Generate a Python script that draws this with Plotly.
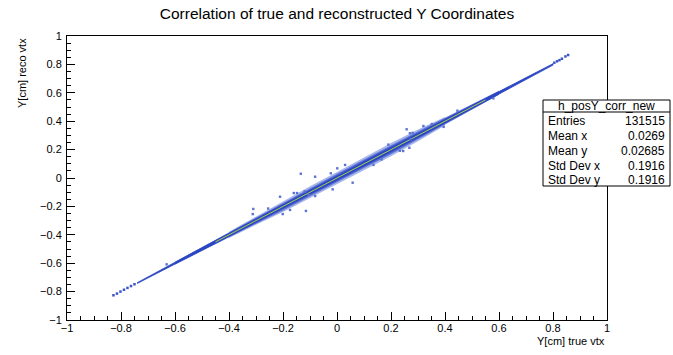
import plotly.graph_objects as go

# ---- data ----
band_x = [-0.74, -0.70, -0.60, -0.50, -0.40, -0.30, -0.20, -0.10, 0.00, 0.10, 0.20, 0.30, 0.40, 0.50, 0.60, 0.70, 0.80]
band_upper = [-0.737, -0.695, -0.593, -0.491, -0.389, -0.287, -0.184, -0.083, 0.017, 0.117, 0.217, 0.316, 0.414, 0.512, 0.610, 0.707, 0.805]
band_lower = [-0.743, -0.705, -0.607, -0.509, -0.411, -0.313, -0.216, -0.117, -0.017, 0.083, 0.183, 0.284, 0.386, 0.488, 0.590, 0.693, 0.795]

fringe_x = [-0.60, -0.50, -0.40, -0.30, -0.20, -0.10, 0.00, 0.10, 0.20, 0.30, 0.40, 0.50, 0.60]
fringe_upper = [-0.590, -0.487, -0.382, -0.278, -0.172, -0.070, 0.030, 0.130, 0.232, 0.330, 0.424, 0.520, 0.614]
fringe_lower = [-0.610, -0.513, -0.418, -0.322, -0.228, -0.130, -0.030, 0.070, 0.168, 0.270, 0.376, 0.480, 0.586]

halo_x = [-0.40, -0.30, -0.20, -0.10, 0.00, 0.10, 0.20, 0.30, 0.40]
halo_upper = [-0.378, -0.270, -0.160, -0.058, 0.042, 0.144, 0.246, 0.342, 0.430]
halo_lower = [-0.422, -0.330, -0.240, -0.142, -0.042, 0.056, 0.154, 0.258, 0.370]

core_x = [-0.45, 0.55]
core_y = [-0.45, 0.55]

tail_x = [-0.828, -0.815, -0.802, -0.789, -0.776, -0.763, -0.750, 0.805, 0.815, 0.824, 0.833, 0.846, 0.856]
tail_y = [-0.826, -0.814, -0.800, -0.787, -0.774, -0.761, -0.748, 0.812, 0.822, 0.830, 0.840, 0.856, 0.866]

out_x = [-0.134, -0.081, -0.211, -0.310, -0.312, -0.115, -0.201, -0.174, 0.001, 0.030, 0.058, -0.023,
         -0.016, -0.081, -0.160, -0.148, 0.258, 0.270, 0.280, 0.273, 0.268, 0.135, 0.165, 0.233, 0.245,
         0.320, 0.351, 0.446, -0.631, 0.579, -0.120, -0.105, -0.255, 0.190, 0.395]
out_y = [0.030, 0.009, -0.132, -0.218, -0.254, -0.232, -0.254, -0.225, 0.068, 0.092, -0.033, 0.033,
         -0.080, -0.127, -0.106, -0.106, 0.343, 0.315, 0.318, 0.273, 0.213, 0.092, 0.131, 0.192, 0.190,
         0.366, 0.380, 0.474, -0.608, 0.561, -0.095, -0.118, -0.215, 0.235, 0.360]

x_ticks = [-1, -0.8, -0.6, -0.4, -0.2, 0, 0.2, 0.4, 0.6, 0.8, 1]
y_ticks = [-1, -0.8, -0.6, -0.4, -0.2, 0, 0.2, 0.4, 0.6, 0.8, 1]

stat_name = "h_posY_corr_new"
stat_labels = ["Entries", "Mean x", "Mean y", "Std Dev x", "Std Dev y"]
stat_values = ["131515", "0.0269", "0.02685", "0.1916", "0.1916"]

title = "Correlation of true and reconstructed Y Coordinates"
x_title = "Y[cm] true vtx"
y_title = "Y[cm] reco vtx"

# ---- figure ----
W, H = 673, 355
L, R, T, B = 67, 66, 36, 35
FONT = "Liberation Sans, Arial, Helvetica, sans-serif"

fig = go.Figure()

def band_trace(xs, up, lo, color, lw=0):
    return go.Scatter(
        x=xs + xs[::-1], y=up + lo[::-1], fill="toself", mode="lines",
        line=dict(width=lw, color=color), fillcolor=color,
        hoverinfo="skip", showlegend=False)

fig.add_trace(band_trace(halo_x, halo_upper, halo_lower, "#a9b6ea"))
fig.add_trace(band_trace(fringe_x, fringe_upper, fringe_lower, "#5c74d6"))
fig.add_trace(band_trace(band_x, band_upper, band_lower, "#2b46c2", 0.8))
fig.add_trace(go.Scatter(
    x=core_x, y=core_y, mode="lines", line=dict(width=1, color="#a8cf52"),
    hoverinfo="skip", showlegend=False))
fig.add_trace(go.Scatter(
    x=tail_x, y=tail_y, mode="markers",
    marker=dict(symbol="square", size=2.5, color="#3a55c8", line=dict(width=0)),
    hoverinfo="skip", showlegend=False))
fig.add_trace(go.Scatter(
    x=out_x, y=out_y, mode="markers",
    marker=dict(symbol="square", size=2.4, color="#5a72d4", line=dict(width=0)),
    hoverinfo="skip", showlegend=False))

def fmt(v):
    return ("−" if v < 0 else "") + f"{abs(v):g}"

axis_common = dict(
    range=[-1, 1], showgrid=False, zeroline=False,
    showline=True, linecolor="black", linewidth=1, mirror=True,
    ticks="inside", ticklen=8, tickcolor="black", tickwidth=1,
    minor=dict(ticks="inside", ticklen=4, dtick=0.05, tickcolor="black", tickwidth=1, showgrid=False),
    tickfont=dict(family=FONT, size=11, color="black"),
    fixedrange=True,
)
fig.update_xaxes(**axis_common, tickvals=x_ticks, ticktext=[fmt(v) for v in x_ticks], ticklabelstandoff=-2)
fig.update_yaxes(**axis_common, tickvals=y_ticks, ticktext=[fmt(v) for v in y_ticks], ticklabelstandoff=2)

pw = W - L - R
ph = H - T - B
def px(xp):
    return (xp - L) / pw
def py(yp):
    return (H - B - yp) / ph

shapes = [
    dict(type="rect", xref="paper", yref="paper", x0=px(543), x1=px(670), y0=py(186), y1=py(100),
         line=dict(color="black", width=1), fillcolor="white", layer="above"),
    dict(type="line", xref="paper", yref="paper", x0=px(543), x1=px(670), y0=py(112), y1=py(112),
         line=dict(color="black", width=1), layer="above"),
]

annotations = [
    dict(text=stat_name, xref="paper", yref="paper", x=px(606.5), y=py(106), xanchor="center", yanchor="middle",
         showarrow=False, font=dict(family=FONT, size=12, color="black")),
    dict(text=x_title, xref="paper", yref="paper", x=1, y=py(341), xanchor="right", yanchor="middle",
         showarrow=False, font=dict(family=FONT, size=11, color="black")),
    dict(text=y_title, xref="paper", yref="paper", x=px(22), y=1, xanchor="center", yanchor="top",
         textangle=-90, showarrow=False, font=dict(family=FONT, size=11, color="black")),
]
row_y = [121, 136, 151, 166, 180]
for lab, val, yy in zip(stat_labels, stat_values, row_y):
    annotations.append(dict(text=lab, xref="paper", yref="paper", x=px(546), y=py(yy), xanchor="left",
                            yanchor="middle", showarrow=False, font=dict(family=FONT, size=12, color="black")))
    annotations.append(dict(text=val, xref="paper", yref="paper", x=px(667), y=py(yy), xanchor="right",
                            yanchor="middle", showarrow=False, font=dict(family=FONT, size=12, color="black")))

fig.update_layout(
    width=W, height=H,
    margin=dict(l=L, r=R, t=T, b=B, pad=0),
    paper_bgcolor="white", plot_bgcolor="white",
    title=dict(text=title, x=0.5, xref="paper", y=1 - 14 / H, yref="container", yanchor="middle",
               xanchor="center", font=dict(family=FONT, size=15.5, color="black")),
    shapes=shapes, annotations=annotations, showlegend=False,
)

fig.write_html("out.html", config={"displayModeBar": False, "staticPlot": True},
               post_script="document.body.style.margin='0px';document.body.style.padding='0px';")
